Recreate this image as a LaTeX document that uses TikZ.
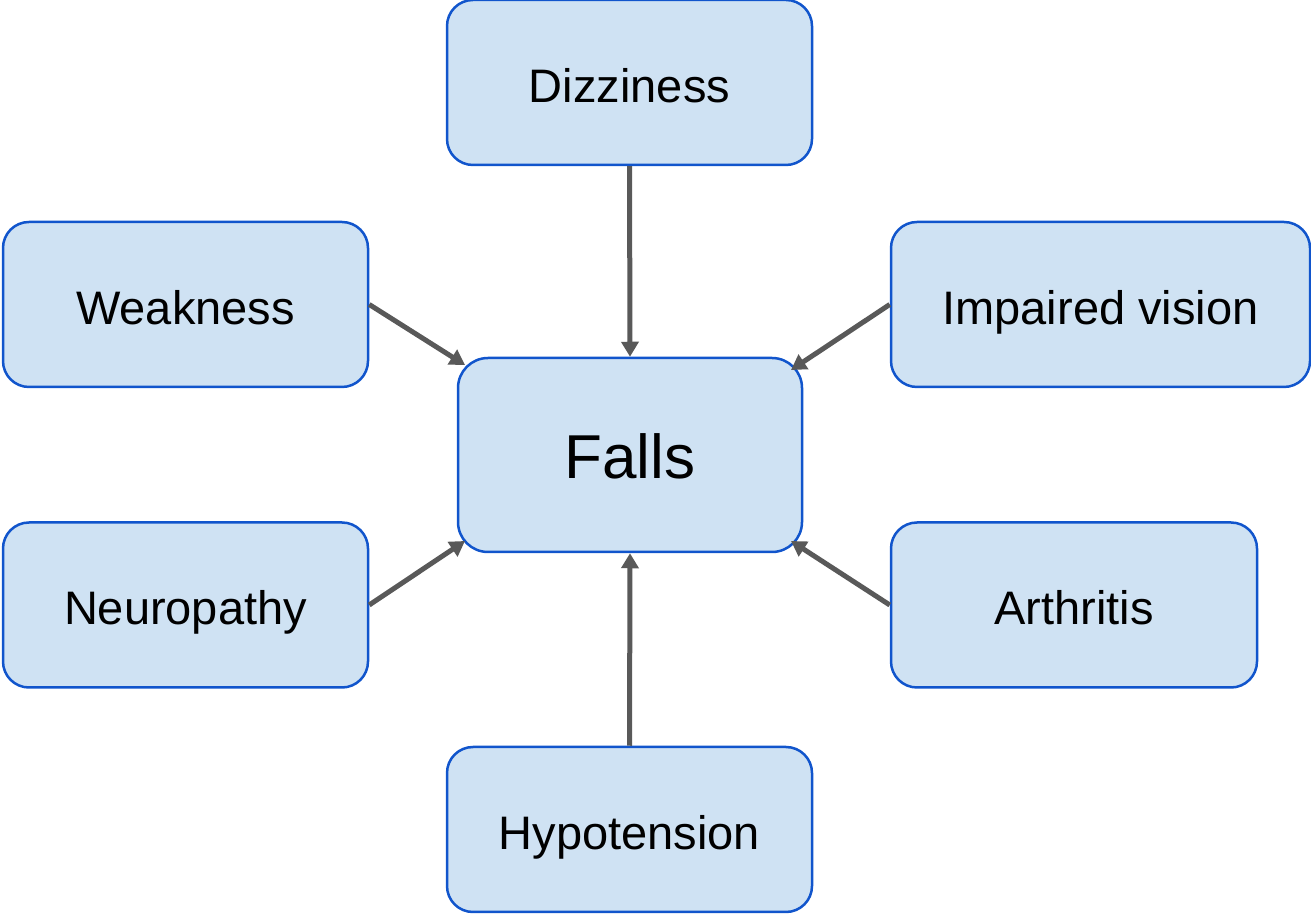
\documentclass[tikz,border=0pt]{standalone}
\usepackage{fontspec}
\setmainfont{Liberation Sans}
\usetikzlibrary{arrows.meta}
\definecolor{boxfill}{HTML}{CFE2F3}
\definecolor{boxline}{HTML}{1155CC}
\definecolor{arrowgray}{HTML}{595959}
\begin{document}
\begin{tikzpicture}[x=1pt,y=1pt,
  cause/.style={draw=boxline, fill=boxfill, line width=2.5pt, rounded corners=26pt,
    minimum width=365pt, minimum height=165pt, inner sep=0pt,
    text height=40pt, text depth=0pt,
    font=\fontsize{47}{56}\selectfont},
  effect/.style={draw=boxline, fill=boxfill, line width=2.5pt, rounded corners=30pt,
    minimum width=344pt, minimum height=194pt, inner sep=0pt,
    text height=46.5pt, text depth=0pt,
    font=\fontsize{62}{74}\selectfont},
  link/.style={draw=arrowgray, line width=5pt, -{Triangle[length=15pt,width=17pt]}}]
\useasboundingbox (0,0) rectangle (1311,915);
\node[cause] (diz) at (629.5,832.5) {Dizziness};
\node[cause] (weak) at (185.5,610.5) {Weakness};
\node[cause, minimum width=419pt] (vis) at (1100.5,610.5) {Impaired vision};
\node[effect] (falls) at (630,460) {Falls};
\node[cause] (neuro) at (185.5,310) {Neuropathy};
\node[cause, minimum width=366pt] (arth) at (1074,310) {Arthritis};
\node[cause] (hypo) at (629.5,85.5) {Hypotension};
\coordinate (fTL) at (465,550);
\coordinate (fTR) at (791,545);
\coordinate (fBL) at (465,374);
\coordinate (fBR) at (791,374);
\draw[link] (diz.south) -- (falls.north);
\draw[link] (weak.east) -- (fTL);
\draw[link] (vis.west) -- (fTR);
\draw[link] (neuro.east) -- (fBL);
\draw[link] (arth.west) -- (fBR);
\draw[link] (hypo.north) -- (falls.south);
\end{tikzpicture}
\end{document}
